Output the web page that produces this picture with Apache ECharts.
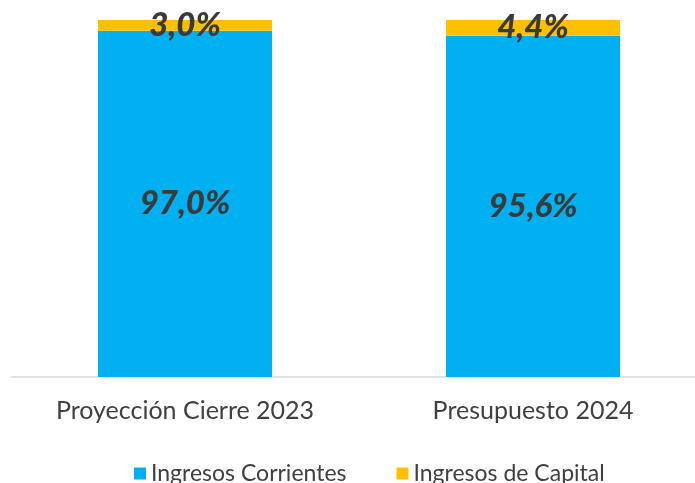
<!DOCTYPE html>
<html><head><meta charset="utf-8">
<script src="https://cdn.jsdelivr.net/npm/echarts@6/dist/echarts.min.js"></script>
<style>html,body{margin:0;padding:0;background:#fff;overflow:hidden}#c{width:720px;height:483px}</style>
</head><body><div id="c"></div>
<script>
const categories = ['Proyección Cierre 2023', 'Presupuesto 2024'];
const corrientes = [97.0, 95.6];
const capital = [3.0, 4.4];
const seriesNames = ['Ingresos Corrientes', 'Ingresos de Capital'];

const FONT = 'Lato';
const chart = echarts.init(document.getElementById('c'));
const fmt = p => p.value.toFixed(1).replace('.', ',') + '%';
const lbl = {
  show: true, position: 'inside', formatter: fmt,
  fontSize: 33, fontWeight: 900, fontStyle: 'italic',
  color: '#3a3a3a', fontFamily: FONT
};
chart.setOption({
  animation: false,
  grid: { left: 11, top: 20, right: 13, bottom: 106, containLabel: false },
  legend: {
    top: 457, left: 129, itemWidth: 12, itemHeight: 12, itemGap: 50, icon: 'rect',
    textStyle: { fontSize: 23, color: '#404040', fontFamily: FONT },
    data: seriesNames
  },
  xAxis: {
    type: 'category', data: categories,
    axisLine: { lineStyle: { color: '#d9d9d9', width: 1.5 } },
    axisTick: { show: false },
    axisLabel: { fontSize: 25, color: '#404040', margin: 21, fontFamily: FONT }
  },
  yAxis: { type: 'value', min: 0, max: 100, show: false, splitLine: { show: false } },
  series: [
    { name: seriesNames[0], type: 'bar', stack: 't', data: corrientes, barWidth: '50%',
      itemStyle: { color: '#00B0F0' }, label: lbl },
    { name: seriesNames[1], type: 'bar', stack: 't', data: capital, barWidth: '50%',
      itemStyle: { color: '#FFC000' }, label: lbl }
  ]
});
</script></body></html>
